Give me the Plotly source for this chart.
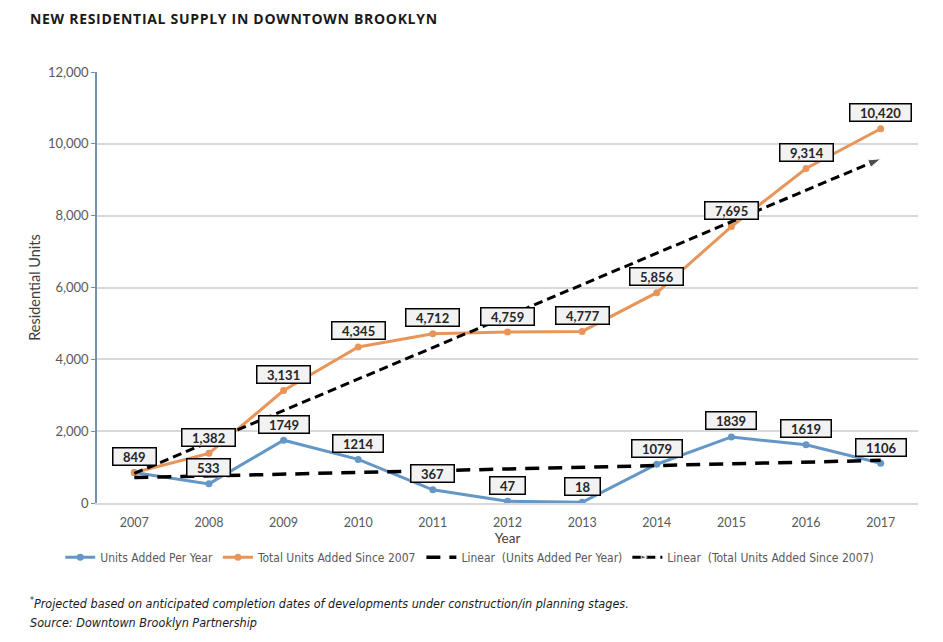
import plotly.graph_objects as go

years = [2007, 2008, 2009, 2010, 2011, 2012, 2013, 2014, 2015, 2016, 2017]
units_per_year = [849, 533, 1749, 1214, 367, 47, 18, 1079, 1839, 1619, 1106]
total_units = [849, 1382, 3131, 4345, 4712, 4759, 4777, 5856, 7695, 9314, 10420]

# linear trend end points
trend_years = [2007, 2017]
trend_per_year = [707, 1187]
trend_total = [823, 9584]

blue = '#6497c6'
orange = '#e8955a'
label_font = 'Lato, Open Sans, sans-serif'
narrow = 'Liberation Sans Narrow, DejaVu Sans Condensed, sans-serif'

fig = go.Figure()

fig.add_trace(go.Scatter(
    x=years, y=units_per_year, name='Units Added Per Year',
    mode='lines+markers', line=dict(color=blue, width=3),
    marker=dict(size=7, color=blue)
))
fig.add_trace(go.Scatter(
    x=years, y=total_units, name='Total Units Added Since 2007',
    mode='lines+markers', line=dict(color=orange, width=3),
    marker=dict(size=7, color=orange)
))
fig.add_trace(go.Scatter(
    x=trend_years, y=trend_per_year, name='Linear  (Units Added Per Year)',
    mode='lines', line=dict(color='black', width=3.5, dash='14px,9px')
))
fig.add_trace(go.Scatter(
    x=trend_years, y=trend_total, name='Linear  (Total Units Added Since 2007)',
    mode='lines+markers', line=dict(color='black', width=3, dash='9px,5px'),
    marker=dict(symbol='arrow', angleref='previous', size=[0, 13], color='black')
))

pad = '&nbsp;' * 3
annotations = []
for series in (units_per_year, total_units):
    for yr, val in zip(years, series):
        txt = f'{val:,}' if series is total_units else str(val)
        annotations.append(dict(
            x=yr, y=val, text=pad + txt + pad,
            showarrow=False, yshift=16,
            font=dict(family=label_font, size=13, color='#262626', weight='bold'),
            bgcolor='#f2f2f2', bordercolor='black', borderwidth=1.5, borderpad=0
        ))

annotations += [
    dict(text='<span style="letter-spacing:0.7px"><b>NEW RESIDENTIAL SUPPLY IN DOWNTOWN BROOKLYN</b></span>',
         xref='paper', yref='paper', x=-0.084, y=1.125, xanchor='left', yanchor='middle',
         showarrow=False, font=dict(family='Open Sans, sans-serif', size=14, color='#1a1a1a')),
    dict(text='<i><sup>*</sup>Projected based on anticipated completion dates of developments under construction/in planning stages.</i>',
         xref='paper', yref='paper', x=-0.084, y=-0.232, xanchor='left', yanchor='middle',
         showarrow=False, font=dict(family=narrow, size=12.5, color='#1a1a1a')),
    dict(text='<i>Source: Downtown Brooklyn Partnership</i>',
         xref='paper', yref='paper', x=-0.084, y=-0.278, xanchor='left', yanchor='middle',
         showarrow=False, font=dict(family=narrow, size=12.5, color='#1a1a1a')),
]

fig.update_layout(
    width=935, height=634,
    margin=dict(l=89, r=25, t=64, b=139),
    paper_bgcolor='white', plot_bgcolor='white',
    font=dict(family='Lato, Open Sans, sans-serif', color='#595959', size=12),
    showlegend=True,
    legend=dict(orientation='h', x=0.454, xanchor='center', y=-0.092, yanchor='top',
                font=dict(family=narrow, size=12, color='#595959'),
                itemwidth=30, tracegroupgap=0),
    annotations=annotations
)
fig.update_xaxes(
    range=[2006.5, 2017.5], dtick=1, tickmode='linear',
    showgrid=False, showline=True, linecolor='#d9d9d9', linewidth=1.5,
    zeroline=False, ticks='', tickfont=dict(size=12.5, color='#595959'),
    ticklabelstandoff=7,
    title=dict(text='Year', standoff=5, font=dict(size=13.5, color='#404040'))
)
fig.update_yaxes(
    range=[0, 12000], dtick=2000, tickformat=',',
    showgrid=True, gridcolor='#d9d9d9', gridwidth=1.5,
    showline=True, linecolor='#6d93b5', linewidth=1.5,
    ticks='outside', ticklen=4, tickcolor='#6d93b5',
    zeroline=False, tickfont=dict(size=13, color='#595959'),
    title=dict(text='Residential Units', standoff=4, font=dict(size=14.5, color='#404040'))
)

fig.write_html('out.html')
